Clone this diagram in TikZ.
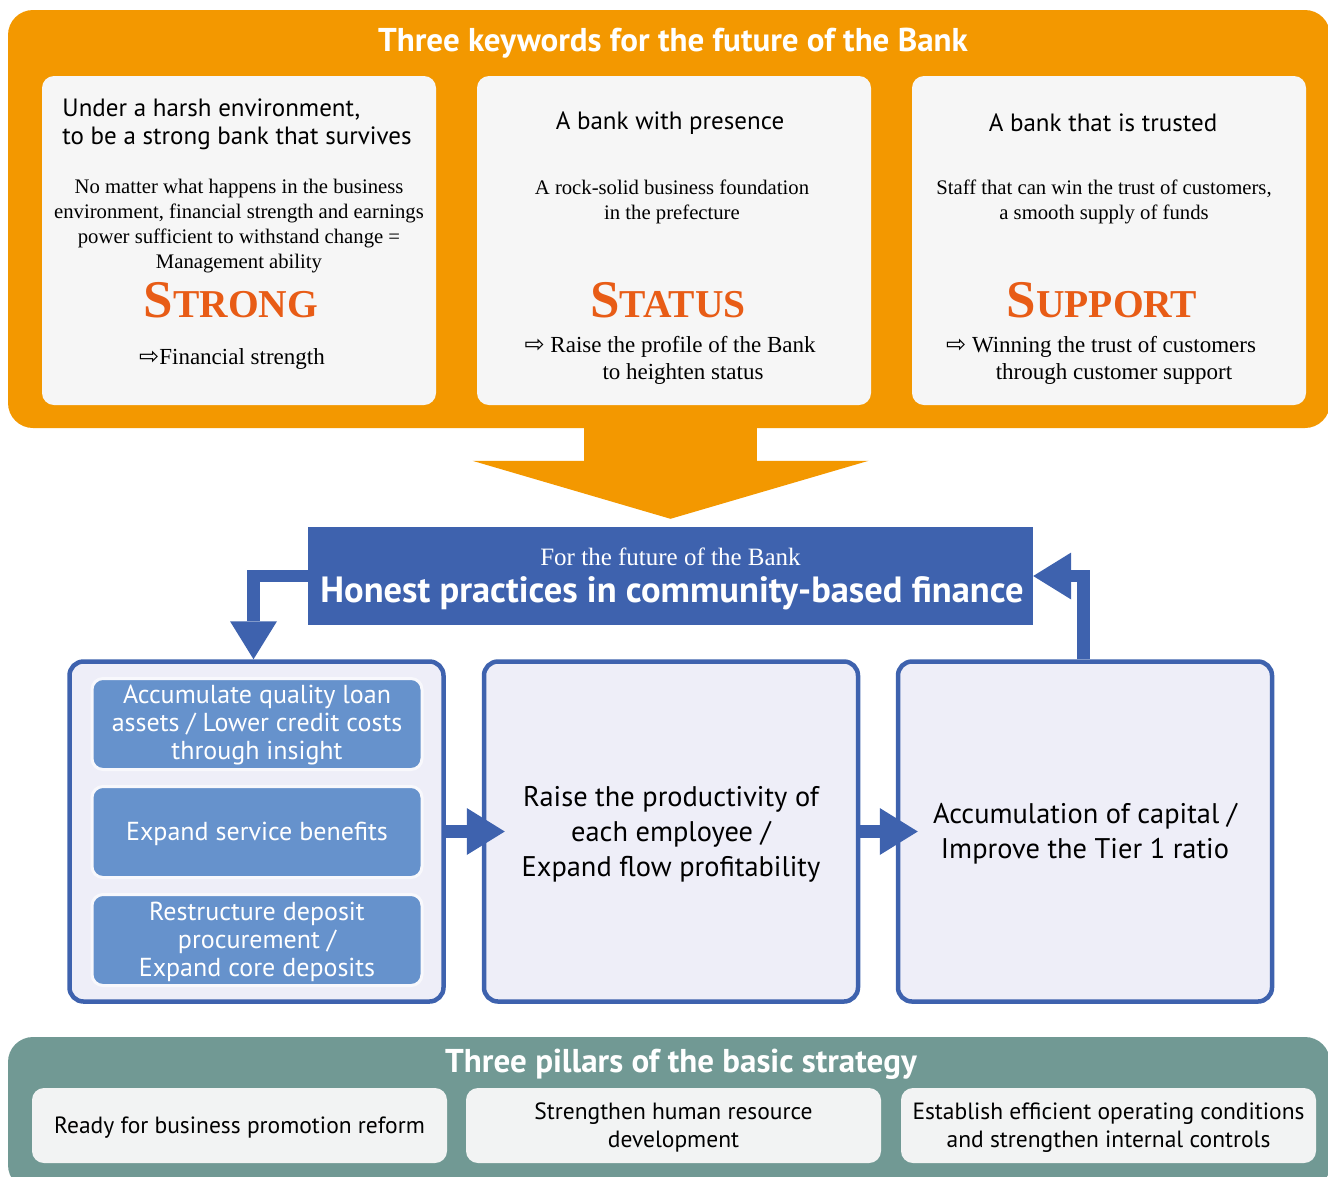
\documentclass[tikz,border=0pt]{standalone}
\usepackage{fontspec}
\setmainfont{Liberation Serif}
\setsansfont{PT Sans}
\newfontfamily\arrowfont{DejaVu Sans}
\usetikzlibrary{arrows.meta}

\definecolor{kworange}{RGB}{243,152,0}
\definecolor{kwred}{RGB}{232,92,22}
\definecolor{bankblue}{RGB}{62,98,174}
\definecolor{subblue}{RGB}{102,146,204}
\definecolor{lilac}{RGB}{238,238,248}
\definecolor{boxgray}{RGB}{246,246,246}
\definecolor{pillarteal}{RGB}{113,153,148}
\definecolor{pillargray}{RGB}{242,243,243}

\newcommand{\kwcaps}[2]{{\fontsize{53}{53}\selectfont\bfseries #1}{\fontsize{39.5}{39.5}\selectfont\bfseries #2}}
\newcommand{\hollowarrow}{{\arrowfont\fontsize{24}{24}\selectfont ⇨}}

\tikzstyle{panel} = [rounded corners=25pt, inner sep=0pt]
\tikzstyle{kwpanel} = [panel, fill=kworange, minimum width=1322pt, minimum height=418pt]
\tikzstyle{kwbox} = [rounded corners=12pt, fill=boxgray, minimum width=394pt, minimum height=329pt]
\tikzstyle{paneltitle} = [font=\sffamily\bfseries\fontsize{33}{38}\selectfont, text=white]
\tikzstyle{kwhead} = [font=\sffamily\fontsize{25}{28}\selectfont, align=center]
\tikzstyle{kwtext} = [font=\fontsize{20.7}{25}\selectfont, align=center]
\tikzstyle{kwword} = [text=kwred, anchor=base]
\tikzstyle{kwnote} = [font=\fontsize{23}{27}\selectfont, align=center]
\tikzstyle{bankbox} = [fill=bankblue, minimum width=725pt, minimum height=98pt]
\tikzstyle{stepbox} = [draw=bankblue, line width=4.5pt, fill=lilac, rounded corners=14pt, minimum width=374pt, minimum height=340pt]
\tikzstyle{steptext} = [font=\sffamily\fontsize{28.4}{35}\selectfont, align=center]
\tikzstyle{subbox} = [draw=white!60!lilac, line width=3pt, fill=subblue, rounded corners=11pt, minimum width=330pt, minimum height=91pt]
\tikzstyle{subtext} = [text=white, font=\sffamily\fontsize{26}{28}\selectfont, align=center]
\tikzstyle{flow} = [bankblue, line width=12.5pt, -{Triangle[length=38pt,width=47pt,line width=0pt]}]
\tikzstyle{bigarrow} = [kworange, line width=173pt, -{Triangle[length=58pt,width=396pt,line width=0pt]}]
\tikzstyle{pillarpanel} = [panel, fill=pillarteal, minimum width=1322pt, minimum height=153pt]
\tikzstyle{pillarbox} = [rounded corners=12pt, fill=pillargray, minimum width=415pt, minimum height=75pt]
\tikzstyle{pillartext} = [font=\sffamily\fontsize{23.5}{28}\selectfont, align=center]

\begin{document}
\begin{tikzpicture}[x=1pt,y=-1pt]
\useasboundingbox (0,0) rectangle (1328,1176);

% three keywords
\node (kw)[kwpanel] at (669,219) {};
\node (kwtitle)[paneltitle] at (673,43) {Three keywords for the future of the Bank};
\node (strong)[kwbox] at (239,240.5) {};
\node (status)[kwbox] at (674,240.5) {};
\node (support)[kwbox] at (1109,240.5) {};

\node (stronghead)[kwhead, align=left] at (237,124) {Under a harsh environment,\\to be a strong bank that survives};
\node (statushead)[kwhead] at (670,123) {A bank with presence};
\node (supporthead)[kwhead] at (1103,123) {A bank that is trusted};

\node (strongtext)[kwtext] at (239,226.5) {No matter what happens in the business\\environment, financial strength and earnings\\power sufficient to withstand change =\\Management ability};
\node (statustext)[kwtext] at (672,201.5) {A rock-solid business foundation\\in the prefecture};
\node (supporttext)[kwtext] at (1104,201.5) {Staff that can win the trust of customers,\\a smooth supply of funds};

\node (strongword)[kwword] at (231,317) {\kwcaps{S}{TRONG}};
\node (statusword)[kwword] at (668,317) {\kwcaps{S}{TATUS}};
\node (supportword)[kwword] at (1102,317) {\kwcaps{S}{UPPORT}};

\node (strongnote)[kwnote] at (232,359) {\hollowarrow Financial strength};
\node (statusnote)[kwnote] at (683,360.5) {\llap{\hollowarrow\ }Raise the profile of the Bank\\to heighten status};
\node (supportnote)[kwnote] at (1114,360.5) {\llap{\hollowarrow\ }Winning the trust of customers\\through customer support};

% community-based finance
\node (hdr)[bankbox] at (670.5,576) {};
\node (hdrsub)[text=white, font=\fontsize{25}{28}\selectfont] at (670.5,557) {For the future of the Bank};
\node (hdrmain)[text=white, font=\sffamily\bfseries\fontsize{36.5}{40}\selectfont] at (672,593) {Honest practices in community-based finance};
\draw [bigarrow] ([yshift=2pt]kw.south -| hdr.north) -- ([yshift=8pt]hdr.north);

\node (loans)[stepbox] at (256.5,831.5) {};
\node (productivity)[stepbox] at (671,831.5) {};
\node (capital)[stepbox] at (1085,831.5) {};
\node (productivitytext)[steptext] at (671,834.5) {Raise the productivity of\\each employee /\\Expand flow profitability};
\node (capitaltext)[steptext] at (1085,834) {Accumulation of capital /\\Improve the Tier 1 ratio};

\node (quality)[subbox] at (257,724) {};
\node (service)[subbox] at (257,832) {};
\node (deposit)[subbox] at (257,940) {};
\node (qualitytext)[subtext] at (257,725.5) {Accumulate quality loan\\assets / Lower credit costs\\through insight};
\node (servicetext)[subtext] at (257,834) {Expand service benefits};
\node (deposittext)[subtext] at (257,941.5) {Restructure deposit\\procurement /\\Expand core deposits};

\draw [flow] (loans.east) -- ([xshift=23pt]productivity.west);
\draw [flow] (productivity.east) -- ([xshift=22pt]capital.west);
\draw [flow] (hdr.west) -| ([xshift=-3pt]loans.north);
\draw [flow] ([xshift=-1.5pt]capital.north) |- (hdr.east);

% three pillars
\node (pillars)[pillarpanel] at (669,1113.5) {};
\node (pillarstitle)[paneltitle] at (681,1064) {Three pillars of the basic strategy};
\node (reform)[pillarbox] at (239.5,1125.5) {};
\node (human)[pillarbox] at (673.5,1125.5) {};
\node (controls)[pillarbox] at (1108.5,1125.5) {};
\node (reformtext)[pillartext] at (239.5,1127.5) {Ready for business promotion reform};
\node (humantext)[pillartext] at (673.5,1127.5) {Strengthen human resource\\development};
\node (controlstext)[pillartext] at (1108.5,1127.5) {Establish efficient operating conditions\\and strengthen internal controls};

\end{tikzpicture}
\end{document}
